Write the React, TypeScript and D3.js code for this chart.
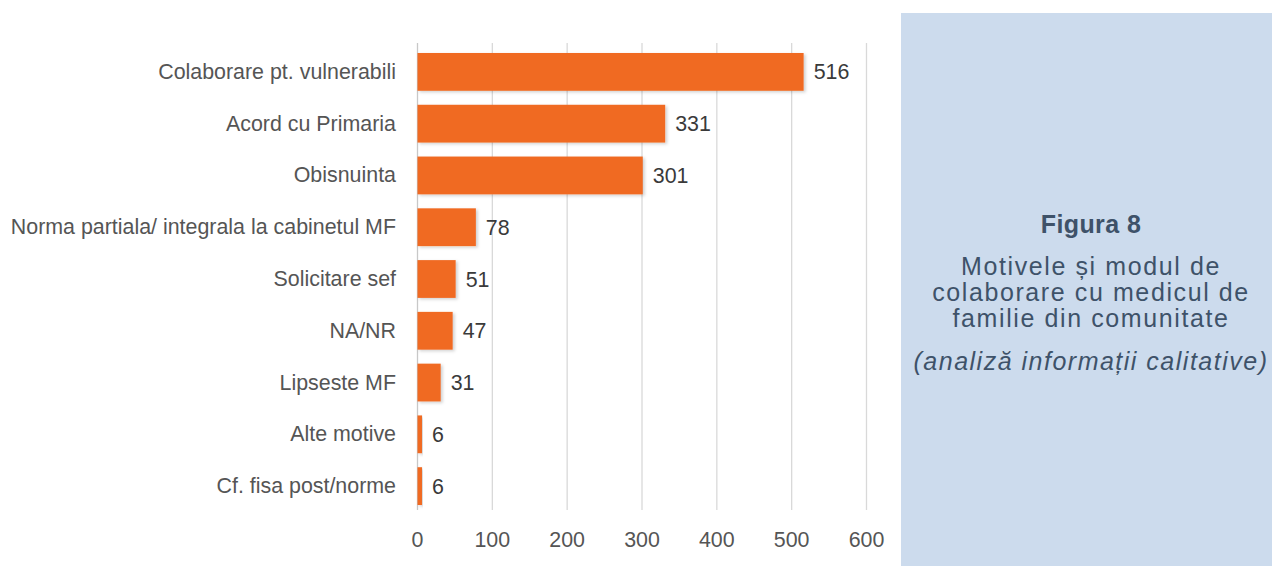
import React from "react";
import * as d3 from "d3";

const categories = [
  "Colaborare pt. vulnerabili",
  "Acord cu Primaria",
  "Obisnuinta",
  "Norma partiala/ integrala la cabinetul MF",
  "Solicitare sef",
  "NA/NR",
  "Lipseste MF",
  "Alte motive",
  "Cf. fisa post/norme",
];
const values = [516, 331, 301, 78, 51, 47, 31, 6, 6];
const xTicks = [0, 100, 200, 300, 400, 500, 600];

const titleLine = "Figura 8";
const subtitleLines = [
  "Motivele și modul de",
  "colaborare cu medicul de",
  "familie din comunitate",
];
const noteLine = "(analiză informații calitative)";

const W = 1272;
const H = 566;

export default function App() {
  const x = d3.scaleLinear().domain([0, 600]).range([417.5, 866.5]);
  const y = d3
    .scaleBand<string>()
    .domain(categories)
    .range([46, 512])
    .paddingInner(0.27)
    .paddingOuter(0.135);
  const gridTop = 43;
  const gridBottom = 510;
  const font = "'Liberation Sans', Arial, sans-serif";
  const panelCx = 1091;

  return (
    <svg
      width={W}
      height={H}
      style={{ position: "absolute", left: 0, top: 0, display: "block" }}
    >
      <defs>
        <filter id="shadow" x="-10%" y="-20%" width="130%" height="150%">
          <feDropShadow dx="2" dy="1.5" stdDeviation="1.8" floodColor="#000" floodOpacity="0.18" />
        </filter>
      </defs>
      <rect x={0} y={0} width={W} height={H} fill="#ffffff" />
      {xTicks.map((t) => (
        <line
          key={t}
          x1={x(t)}
          x2={x(t)}
          y1={gridTop}
          y2={gridBottom}
          stroke={t === 0 ? "#c8c8c8" : "#d9d9d9"}
          strokeWidth={1.3}
        />
      ))}
      {xTicks.map((t) => (
        <text
          key={"t" + t}
          x={x(t)}
          y={546.5}
          textAnchor="middle"
          fontFamily={font}
          fontSize={21.4}
          fill="#555555"
        >
          {t}
        </text>
      ))}
      {categories.map((c, i) => (
        <rect
          key={c}
          x={x(0)}
          y={y(c)!}
          width={x(values[i]) - x(0)}
          height={y.bandwidth()}
          fill="#f06a23"
          filter="url(#shadow)"
        />
      ))}
      {categories.map((c) => (
        <text
          key={"c" + c}
          x={396}
          y={y(c)! + y.bandwidth() / 2 + 7}
          textAnchor="end"
          fontFamily={font}
          fontSize={21.4}
          fill="#555555"
        >
          {c}
        </text>
      ))}
      {categories.map((c, i) => (
        <text
          key={"v" + c}
          x={x(values[i]) + 10}
          y={y(c)! + y.bandwidth() / 2 + 7.5}
          textAnchor="start"
          fontFamily={font}
          fontSize={21.4}
          fill="#3a3a3a"
        >
          {values[i]}
        </text>
      ))}
      <rect x={901} y={13} width={W - 901} height={H - 13} fill="#ccdbed" />
      <text
        x={panelCx}
        y={233}
        textAnchor="middle"
        fontFamily={font}
        fontWeight="bold"
        fontSize={25}
        letterSpacing={0.4}
        fill="#3e5269"
      >
        {titleLine}
      </text>
      {subtitleLines.map((s, i) => (
        <text
          key={s}
          x={panelCx}
          y={275 + i * 26}
          textAnchor="middle"
          fontFamily={font}
          fontSize={25}
          letterSpacing={1.6}
          fill="#3e5269"
        >
          {s}
        </text>
      ))}
      <text
        x={panelCx}
        y={370}
        textAnchor="middle"
        fontFamily={font}
        fontStyle="italic"
        fontSize={25}
        letterSpacing={1.5}
        fill="#3e5269"
      >
        {noteLine}
      </text>
    </svg>
  );
}
